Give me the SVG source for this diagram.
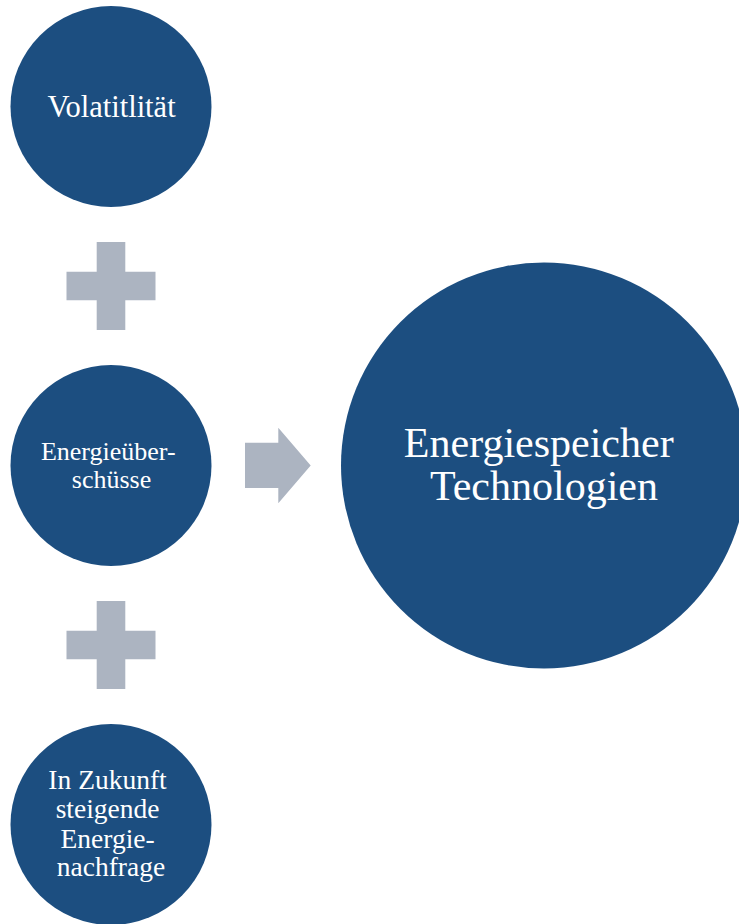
<svg xmlns="http://www.w3.org/2000/svg" width="739" height="924" viewBox="0 0 739 924">
  <style>
    .node { fill: #1C4E80; }
    .sym { fill: #ACB4C1; }
    .label { fill: #FFFFFF; font-family: "Liberation Serif", "Times New Roman", serif; text-anchor: middle; }
  </style>
  <rect width="739" height="924" fill="#FFFFFF"/>

  <g id="volatilitaet">
    <circle class="node" cx="111" cy="106.5" r="100.5"/>
    <text class="label" x="111.5" y="116.7" font-size="30.5">Volatitlität</text>
  </g>

  <g id="energieueberschuesse">
    <circle class="node" cx="111" cy="465.5" r="100.5"/>
    <text class="label" font-size="26">
      <tspan x="111.5" y="460">Energieüber-</tspan>
      <tspan x="111.5" y="487.7">schüsse</tspan>
    </text>
  </g>

  <g id="energienachfrage">
    <circle class="node" cx="111" cy="824.5" r="100.5"/>
    <text class="label" font-size="27.5">
      <tspan x="111" y="789.3">In Zukunft</tspan>
      <tspan x="111" y="818">steigende</tspan>
      <tspan x="111" y="847.7">Energie-</tspan>
      <tspan x="111" y="876">nachfrage</tspan>
    </text>
  </g>

  <g id="energiespeicher">
    <circle class="node" cx="544" cy="465.5" r="203"/>
    <text class="label" font-size="42">
      <tspan x="544" y="456.7">Energiespeicher</tspan>
      <tspan x="544" y="500">Technologien</tspan>
    </text>
  </g>

  <g id="connectors">
    <!-- plus between first and second circle -->
    <path class="sym" d="M96.7,242 H125.3 V271.7 H155.5 V300.3 H125.3 V330 H96.7 V300.3 H66.5 V271.7 H96.7 Z"/>
    <!-- plus between second and third circle -->
    <path class="sym" d="M96.7,601 H125.3 V630.7 H155.5 V659.3 H125.3 V689 H96.7 V659.3 H66.5 V630.7 H96.7 Z"/>
    <!-- block arrow to the result -->
    <path class="sym" d="M245,442.7 H278.3 V427.7 L310.7,465.5 L278.3,503.3 V488 H245 Z"/>
  </g>
</svg>
